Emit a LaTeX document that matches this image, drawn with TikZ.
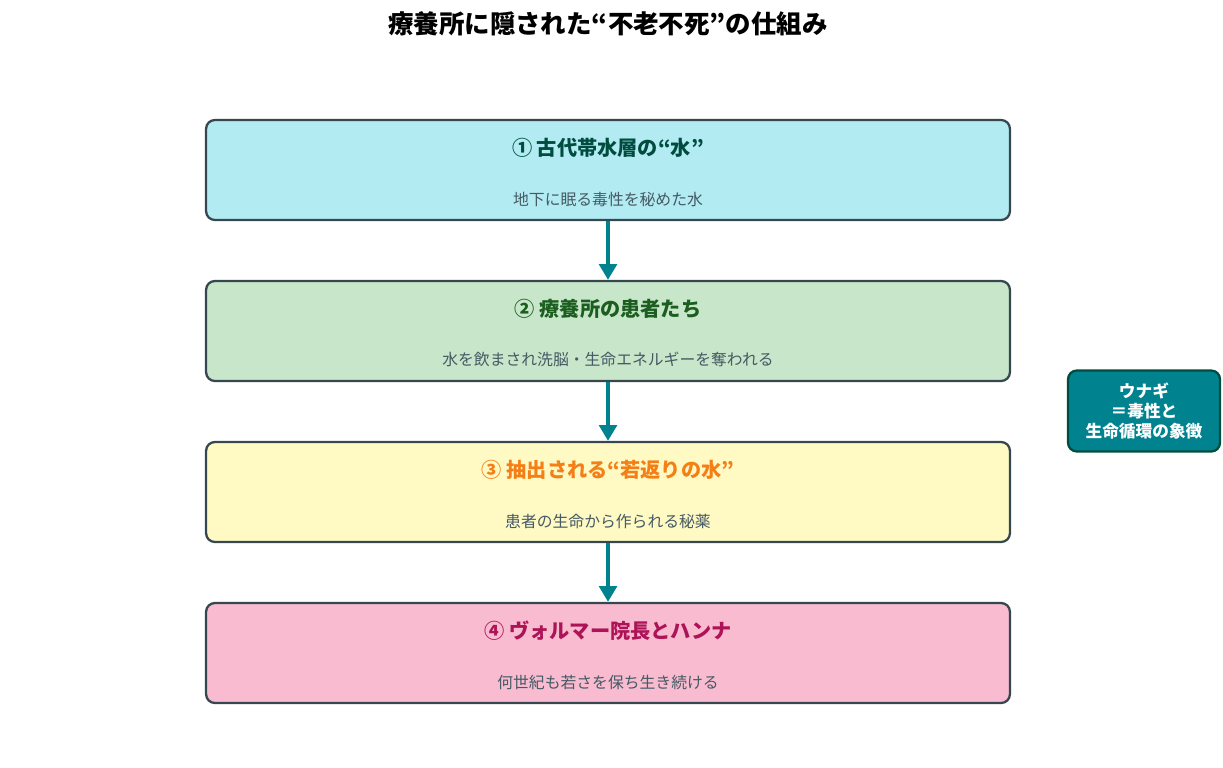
\documentclass[tikz,border=0pt]{standalone}
\usepackage{fontspec}
\setmainfont{Noto Sans CJK JP}
\usetikzlibrary{arrows.meta,positioning}
\definecolor{edge}{HTML}{37474F}
\definecolor{teal}{HTML}{00838F}
\definecolor{subgray}{HTML}{455A64}
\definecolor{fillA}{HTML}{B2EBF2}
\definecolor{fillB}{HTML}{C8E6C9}
\definecolor{fillC}{HTML}{FFF9C4}
\definecolor{fillD}{HTML}{F8BBD0}
\definecolor{headA}{HTML}{004D40}
\definecolor{headB}{HTML}{1B5E20}
\definecolor{headC}{HTML}{F57F17}
\definecolor{headD}{HTML}{AD1457}
\begin{document}
\begin{tikzpicture}[x=0.02cm,y=-0.02cm,
    stage/.style={rectangle, draw=edge, line width=1.3pt, rounded corners=5pt, minimum width=16.08cm, minimum height=2cm},
    head/.style={font=\bfseries\fontsize{11.5}{13}\selectfont},
    sub/.style={text=subgray, font=\fontsize{9}{11}\selectfont},
    flow/.style={-{Triangle[length=9pt,width=10pt]}, line width=2.2pt, draw=teal}
]
    \useasboundingbox (0,0) rectangle (1223,767);

    \node[font=\bfseries\fontsize{14.5}{17}\selectfont] (title) at (608,24) {療養所に隠された“不老不死”の仕組み};

    \node[stage, fill=fillA] (s1) at (608,170) {};
    \node[stage, fill=fillB] (s2) at (608,331) {};
    \node[stage, fill=fillC] (s3) at (608,492) {};
    \node[stage, fill=fillD] (s4) at (608,653) {};

    % Titles
    \node[head, text=headA] (h1) at (608,148) {① 古代帯水層の“水”};
    \node[head, text=headB] (h2) at (608,309) {② 療養所の患者たち};
    \node[head, text=headC] (h3) at (608,470) {③ 抽出される“若返りの水”};
    \node[head, text=headD] (h4) at (608,631) {④ ヴォルマー院長とハンナ};

    % Descriptions
    \node[sub] (d1) at (608,199) {地下に眠る毒性を秘めた水};
    \node[sub] (d2) at (608,359) {水を飲まされ洗脳・生命エネルギーを奪われる};
    \node[sub] (d3) at (608,521) {患者の生命から作られる秘薬};
    \node[sub] (d4) at (608,682) {何世紀も若さを保ち生き続ける};

    % Arrows
    \draw[flow] (s1) -- (s2);
    \draw[flow] (s2) -- (s3);
    \draw[flow] (s3) -- (s4);

    % Side note
    \node[rectangle, draw=headA, line width=1.3pt, fill=teal, rounded corners=5pt, minimum width=3.04cm, minimum height=1.62cm, text=white, align=center, font=\bfseries\fontsize{9.5}{11.5}\selectfont] (eel) at (1144,411) {ウナギ\\＝毒性と\\生命循環の象徴};

\end{tikzpicture}
\end{document}
